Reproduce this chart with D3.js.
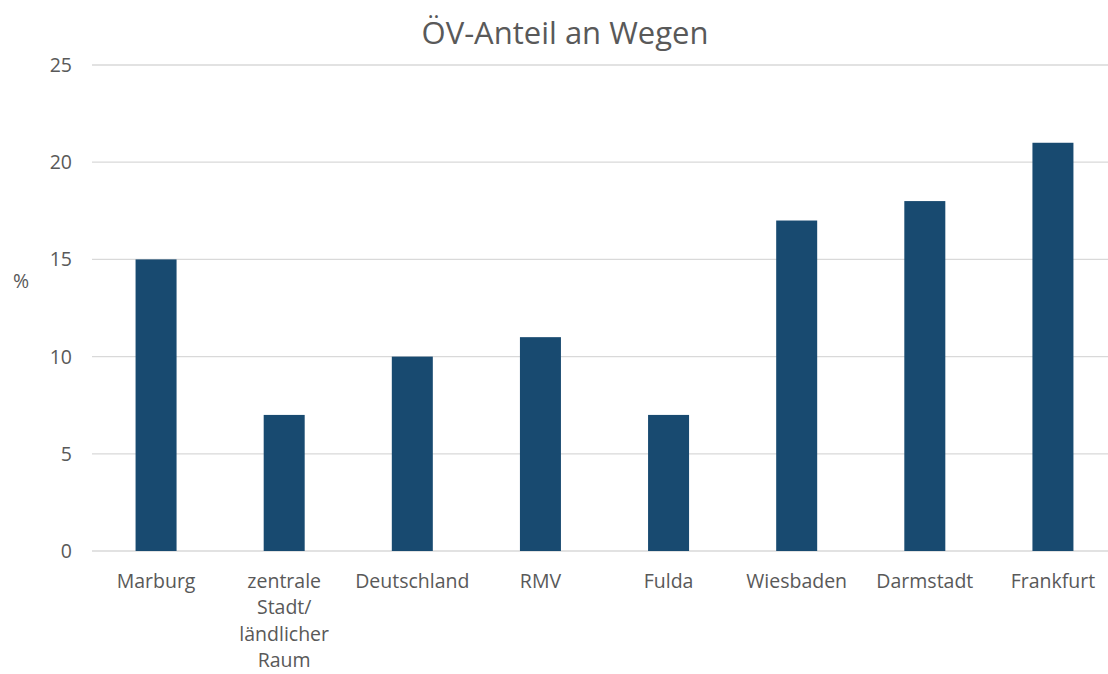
<!DOCTYPE html>
<html>
<head>
<meta charset="utf-8">
<script src="https://cdn.jsdelivr.net/npm/d3@7"></script>
<style>
  body { margin: 0; background: #fff; }
  svg { display: block; font-family: "Open Sans", Lato, sans-serif; }
</style>
</head>
<body>
<svg id="chart" width="1108" height="674"></svg>
<script>
// data
let categories = ["Marburg", "zentrale Stadt/ ländlicher Raum", "Deutschland", "RMV", "Fulda", "Wiesbaden", "Darmstadt", "Frankfurt"]
let labelLines = [["Marburg"], ["zentrale", "Stadt/", "ländlicher", "Raum"], ["Deutschland"], ["RMV"], ["Fulda"], ["Wiesbaden"], ["Darmstadt"], ["Frankfurt"]]
let values = [15, 7, 10, 11, 7, 17, 18, 21]
let yTicks = [0, 5, 10, 15, 20, 25]

let svg = d3.select("#chart")
let plotLeft = 92, plotRight = 1117, plotTop = 65, plotBottom = 551
let textColor = "#595959"

let x = d3.scaleBand().domain(categories).range([plotLeft, plotRight]).paddingInner(0.68).paddingOuter(0.34)
let y = d3.scaleLinear().domain([0, 25]).range([plotBottom, plotTop])

// gridlines
svg.append("g").selectAll("line").data(yTicks).enter().append("line")
    .attr("x1", plotLeft).attr("x2", plotRight)
    .attr("y1", d => y(d)).attr("y2", d => y(d))
    .attr("stroke", "#d9d9d9").attr("stroke-width", 1.3)

// y tick labels
svg.append("g").selectAll("text").data(yTicks).enter().append("text")
    .attr("x", 72).attr("y", d => y(d) + 7)
    .attr("text-anchor", "end")
    .attr("font-size", 19.5).attr("fill", textColor)
    .text(d => d)

// bars
svg.append("g").selectAll("rect").data(values).enter().append("rect")
    .attr("x", (d, i) => x(categories[i]))
    .attr("width", x.bandwidth())
    .attr("y", d => y(d))
    .attr("height", d => plotBottom - y(d))
    .attr("fill", "#184a70")

// category labels (wrapped like the original)
let lab = svg.append("g").selectAll("text").data(labelLines).enter().append("text")
    .attr("text-anchor", "middle")
    .attr("font-size", 19.5).attr("fill", textColor)
    .attr("transform", (d, i) => `translate(${x(categories[i]) + x.bandwidth() / 2},588)`)
lab.selectAll("tspan").data(d => d).enter().append("tspan")
    .attr("x", 0).attr("y", (d, i) => i * 26.3)
    .text(d => d)

// axis title
svg.append("text")
    .attr("x", 21).attr("y", 288)
    .attr("text-anchor", "middle")
    .attr("font-size", 19.5).attr("fill", textColor)
    .text("%")

// title
svg.append("text")
    .attr("x", 565).attr("y", 44)
    .attr("text-anchor", "middle")
    .attr("font-size", 31).attr("fill", textColor)
    .text("ÖV-Anteil an Wegen")
</script>
</body>
</html>
